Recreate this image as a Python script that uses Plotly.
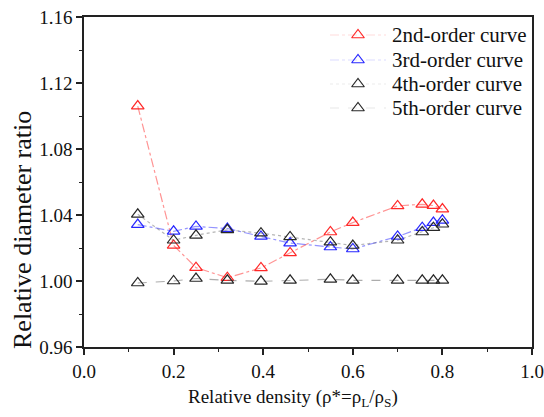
import plotly.graph_objects as go

# Relative density values (rho* = rho_L / rho_S)
density = [0.12, 0.20, 0.25, 0.32, 0.395, 0.46, 0.55, 0.60, 0.70, 0.755, 0.78, 0.80]

# Relative diameter ratio for each fitting order
order2 = [1.106, 1.0216, 1.0081, 1.0020, 1.0079, 1.0170, 1.0297, 1.0354, 1.0455, 1.0465, 1.0457, 1.0436]
order3 = [1.0342, 1.0301, 1.0331, 1.0318, 1.0270, 1.0230, 1.0206, 1.0194, 1.0270, 1.0323, 1.0354, 1.0368]
order4 = [1.0404, 1.0247, 1.0277, 1.0310, 1.0290, 1.0267, 1.0235, 1.0215, 1.0247, 1.0297, 1.0323, 1.0344]
order5 = [0.9988, 1.0000, 1.0015, 1.0004, 0.9998, 1.0004, 1.0010, 1.0004, 1.0004, 1.0004, 1.0004, 1.0004]

names = ["2nd-order curve", "3rd-order curve", "4th-order curve", "5th-order curve"]
x_ticks = [0.0, 0.2, 0.4, 0.6, 0.8, 1.0]
y_ticks = [0.96, 1.00, 1.04, 1.08, 1.12, 1.16]

FONT = "Liberation Serif, Times New Roman, serif"
W, H = 544, 417
M_L, M_R, M_T, M_B = 84, 12, 17, 70

# (values, label, marker colour, line colour, faint key-line colour, dash)
series = [
    (order2, names[0], "rgba(255,40,40,1)", "rgba(255,60,60,0.55)", "rgba(255,60,60,0.18)", "dashdot"),
    (order3, names[1], "rgba(40,40,255,1)", "rgba(60,60,255,0.55)", "rgba(60,60,255,0.18)", "dashdot"),
    (order4, names[2], "rgba(40,40,40,1)", "rgba(90,90,90,0.45)", "rgba(90,90,90,0.12)", "dot"),
    (order5, names[3], "rgba(40,40,40,1)", "rgba(90,90,90,0.5)", "rgba(90,90,90,0.14)", "dash"),
]

fig = go.Figure()
for ys, name, mcol, lcol, kcol, dash in series:
    fig.add_trace(go.Scatter(
        x=density, y=ys, name=name, mode="lines+markers", showlegend=False,
        line=dict(color=lcol, width=1.2, dash=dash),
        marker=dict(symbol="triangle-up-open", size=11, color=mcol,
                    line=dict(width=1.2, color=mcol)),
    ))

# Legend key, drawn on a hidden overlay axis spanning the plot area in pixels
plot_w, plot_h = W - M_L - M_R, H - M_T - M_B
key_x = 358 - M_L            # symbol centre, px from the plot's left edge
text_x = 390 - M_L           # label start
row_y = [35, 60, 84, 108]    # row centres, px from the figure top
for (ys, name, mcol, lcol, kcol, dash), ry in zip(series, row_y):
    yy = H - M_B - ry
    fig.add_trace(go.Scatter(
        x=[key_x - 28, key_x + 28], y=[yy, yy], mode="lines", showlegend=False,
        line=dict(color=kcol, width=1, dash=dash),
        xaxis="x2", yaxis="y2", hoverinfo="skip",
    ))
    fig.add_trace(go.Scatter(
        x=[key_x], y=[yy], mode="markers", showlegend=False,
        marker=dict(symbol="triangle-up-open", size=11, color=mcol,
                    line=dict(width=1.2, color=mcol)),
        xaxis="x2", yaxis="y2", hoverinfo="skip",
    ))
    fig.add_annotation(
        x=text_x, y=yy, xref="x2", yref="y2", text=name, showarrow=False,
        xanchor="left", yanchor="middle",
        font=dict(family=FONT, size=21, color="#111"),
    )

axis_common = dict(
    showline=True, linecolor="#222", linewidth=1.5, mirror=True,
    ticks="outside", ticklen=6, tickwidth=1.5, tickcolor="#222",
    showgrid=False, zeroline=False, automargin=False,
    tickfont=dict(family=FONT, size=19, color="#111"),
)

fig.update_layout(
    xaxis=dict(
        range=[0, 1], tickvals=x_ticks, ticktext=[f"{v:.1f}" for v in x_ticks],
        minor=dict(ticks="outside", ticklen=3.5, tickwidth=1.2, tickcolor="#222", dtick=0.1, tick0=0),
        **axis_common),
    yaxis=dict(
        range=[0.96, 1.16], tickvals=y_ticks, ticktext=[f"{v:.2f}" for v in y_ticks],
        minor=dict(ticks="outside", ticklen=3.5, tickwidth=1.2, tickcolor="#222", dtick=0.02, tick0=0.96),
        **axis_common),
    xaxis2=dict(overlaying="x", range=[0, plot_w], visible=False, fixedrange=True),
    yaxis2=dict(overlaying="y", range=[0, plot_h], visible=False, fixedrange=True),
)

# Axis titles
fig.add_annotation(
    x=(293 - M_L) / plot_w, y=-(398 - (H - M_B)) / plot_h, xref="paper", yref="paper",
    text="Relative density (ρ*=ρ<sub>L</sub>/ρ<sub>S</sub>)", showarrow=False,
    xanchor="center", yanchor="middle",
    font=dict(family=FONT, size=19, color="#111"),
)
fig.add_annotation(
    x=-(M_L - 22) / plot_w, y=(H - M_B - 230) / plot_h, xref="paper", yref="paper",
    text="Relative diameter ratio", showarrow=False, textangle=-90,
    xanchor="center", yanchor="middle",
    font=dict(family=FONT, size=26, color="#111"),
)

fig.update_layout(
    width=W, height=H,
    margin=dict(l=M_L, r=M_R, t=M_T, b=M_B),
    paper_bgcolor="white", plot_bgcolor="white",
    showlegend=False,
)

fig.write_html("out.html")
